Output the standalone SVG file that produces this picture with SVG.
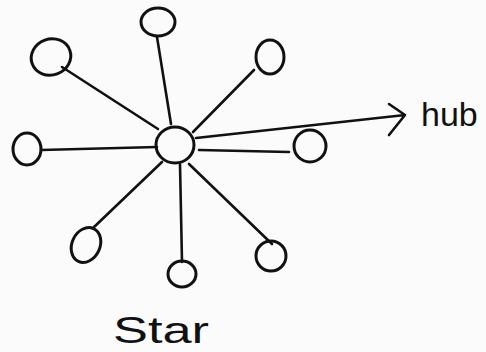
<svg xmlns="http://www.w3.org/2000/svg" width="486" height="352" viewBox="0 0 486 352">
<style>
.n{fill:none;stroke:#111;stroke-width:3}
.c{fill:none;stroke:#111;stroke-width:2.6;stroke-linecap:round;stroke-linejoin:round}
.t{font-family:"Liberation Sans",Arial,sans-serif;fill:#111}
</style>
<rect width="486" height="352" fill="#fbfbfb"/>
<g id="connectors">
<line class="c" x1="157" y1="37" x2="171" y2="124"/>
<line class="c" x1="62" y1="67" x2="158" y2="129"/>
<line class="c" x1="254" y1="70" x2="193" y2="132"/>
<line class="c" x1="41" y1="150" x2="157" y2="147"/>
<line class="c" x1="199" y1="150" x2="289" y2="152"/>
<line class="c" x1="162" y1="162" x2="93" y2="228"/>
<line class="c" x1="180" y1="164" x2="182" y2="262"/>
<line class="c" x1="189" y1="164" x2="272" y2="244"/>
<path class="c" d="M196 138 L405 115 M389 104 L405 115 L389 135"/>
</g>
<g id="hub"><ellipse class="n" cx="175" cy="145" rx="19" ry="18"/></g>
<g id="node-top"><ellipse class="n" cx="158" cy="22" rx="17" ry="14"/></g>
<g id="node-topleft"><ellipse class="n" cx="51" cy="57" rx="20" ry="18" transform="rotate(-20 51 57)"/></g>
<g id="node-topright"><ellipse class="n" cx="270" cy="57" rx="14" ry="17"/></g>
<g id="node-left"><ellipse class="n" cx="27" cy="149" rx="14" ry="16"/></g>
<g id="node-right"><ellipse class="n" cx="310" cy="146" rx="16" ry="16"/></g>
<g id="node-bottomleft"><ellipse class="n" cx="86" cy="245" rx="14" ry="18" transform="rotate(25 86 245)"/></g>
<g id="node-bottom"><ellipse class="n" cx="182" cy="274" rx="14" ry="13"/></g>
<g id="node-bottomright"><ellipse class="n" cx="271" cy="256" rx="15" ry="15"/></g>
<text class="t" x="421" y="126" font-size="34">hub</text>
<text class="t" x="113" y="343" font-size="36" textLength="96" lengthAdjust="spacingAndGlyphs">Star</text>
</svg>
